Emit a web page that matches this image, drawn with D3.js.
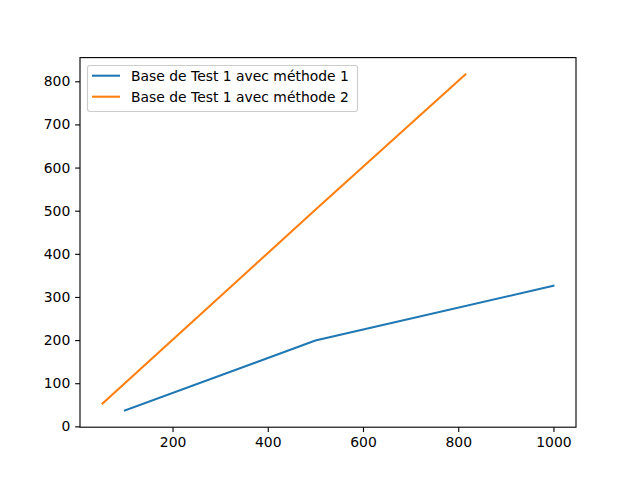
<!DOCTYPE html>
<html><head><meta charset="utf-8">
<script src="https://cdn.jsdelivr.net/npm/d3@7"></script>
<style>body{margin:0;background:#fff}text{font-family:"DejaVu Sans",sans-serif}</style>
</head><body>
<svg id="c" width="640" height="480"></svg>
<script>
const seriesNames = ["Base de Test 1 avec méthode 1", "Base de Test 1 avec méthode 2"];
const seriesColors = ["#1f77b4", "#ff7f0e"];
const x1 = [100, 500, 1000];
const y1 = [37, 199, 326];
const x2 = [53, 500, 815];
const y2 = [53, 502, 816];
const xTicks = [200, 400, 600, 800, 1000];
const yTicks = [0, 100, 200, 300, 400, 500, 600, 700, 800];

const svg = d3.select("#c");
const L = 80, R = 576, T = 57.6, B = 427.2;
const allX = x1.concat(x2), allY = y1.concat(y2);
const pad = (a) => { const mn = d3.min(a), mx = d3.max(a), d = (mx - mn) * 0.05; return [mn - d, mx + d]; };
const x = d3.scaleLinear().domain(pad(allX)).range([L, R]);
const y = d3.scaleLinear().domain(pad(allY)).range([B, T]);

const series = [x1.map((v, i) => [v, y1[i]]), x2.map((v, i) => [v, y2[i]])];
const line = d3.line().x(d => x(d[0])).y(d => y(d[1]));
series.forEach((s, i) => {
  svg.append("path").attr("d", line(s)).attr("fill", "none")
    .attr("stroke", seriesColors[i]).attr("stroke-width", 2.08).attr("stroke-linecap", "square");
});

const fs = "13.9px";
const xa = svg.append("g").attr("transform", `translate(0,${B})`)
  .call(d3.axisBottom(x).tickValues(xTicks).tickSize(4.86).tickPadding(4.86).tickFormat(d3.format("d")));
const ya = svg.append("g").attr("transform", `translate(${L},0)`)
  .call(d3.axisLeft(y).tickValues(yTicks).tickSize(4.86).tickPadding(4.86).tickFormat(d3.format("d")));
[xa, ya].forEach(a => {
  a.select(".domain").remove();
  a.selectAll("line").attr("stroke", "#000").attr("stroke-width", 1.11);
  a.selectAll("text").attr("font-size", fs).attr("fill", "#000").attr("font-family", "DejaVu Sans");
});
svg.append("rect").attr("x", L).attr("y", T).attr("width", R - L).attr("height", B - T)
  .attr("fill", "none").attr("stroke", "#000").attr("stroke-width", 1.11);

// legend
const lg = svg.append("g");
lg.append("rect").attr("x", 87.5).attr("y", 65.5).attr("width", 270).attr("height", 46).attr("rx", 2.5)
  .attr("fill", "#fff").attr("fill-opacity", 0.8).attr("stroke", "#ccc").attr("stroke-width", 1.11);
seriesNames.forEach((n, i) => {
  const cy = 75.7 + i * 21;
  lg.append("line").attr("x1", 92).attr("x2", 120).attr("y1", cy).attr("y2", cy)
    .attr("stroke", seriesColors[i]).attr("stroke-width", 2.08);
  lg.append("text").attr("x", 131).attr("y", cy).attr("dy", "0.35em").attr("font-size", fs).text(n);
});
</script>
</body></html>
